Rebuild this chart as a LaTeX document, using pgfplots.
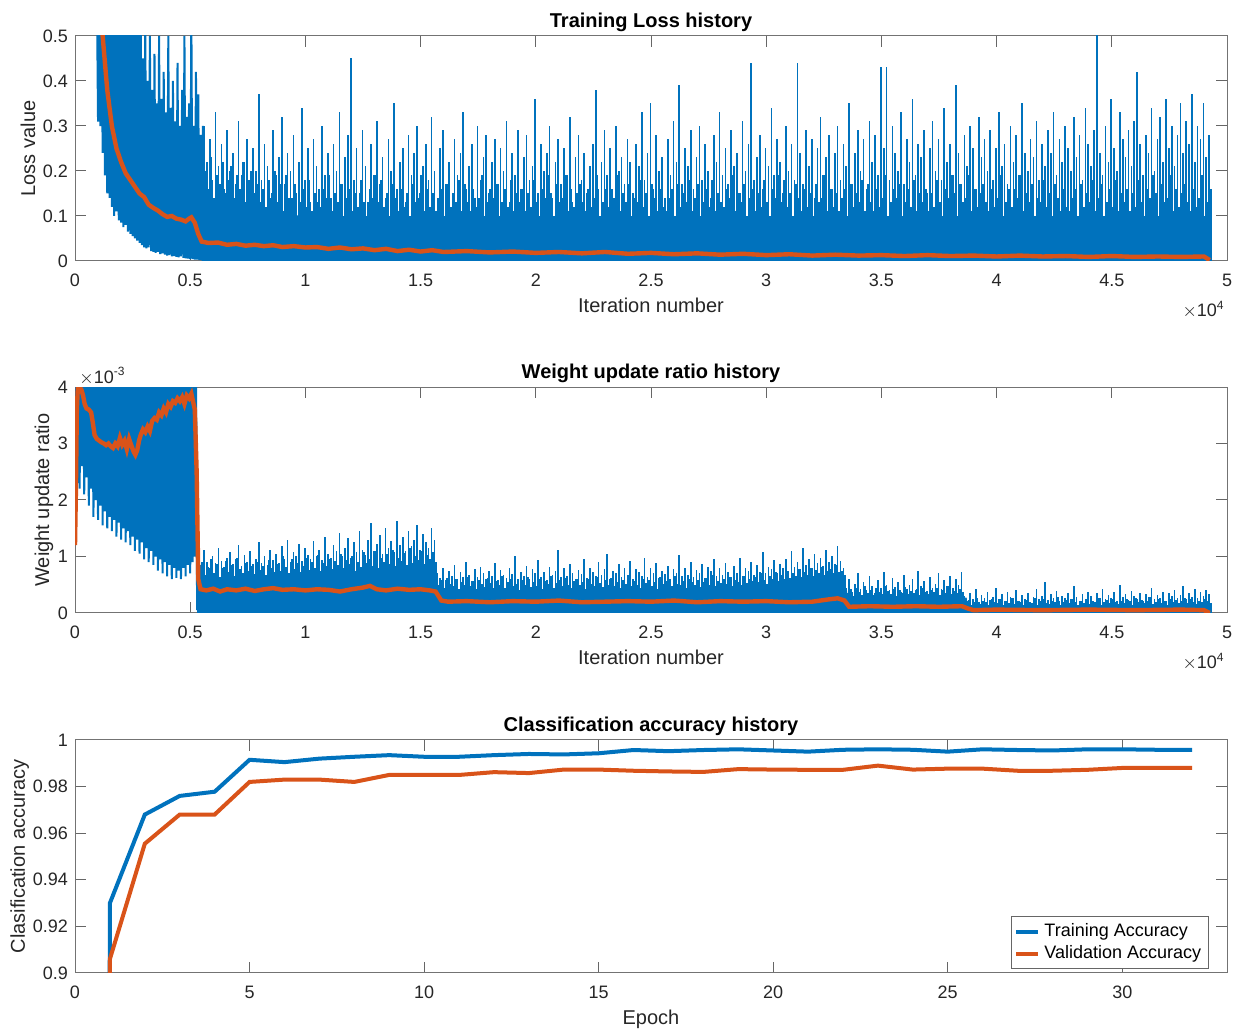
\documentclass[border=0pt]{standalone}
\usepackage{pgfplots}
\usepackage{pgfplotstable}
\pgfplotsset{compat=1.18}
\usepackage{fontspec}
\setmainfont{Liberation Sans}
\definecolor{mblue}{RGB}{0,114,189}
\definecolor{morange}{RGB}{217,83,25}
\definecolor{tgray}{RGB}{38,38,38}
\pgfplotsset{
 mstyle/.style={
  scale only axis, width=576pt,
  axis line style={black!55, line width=0.5pt},
  every tick/.style={black!60, line width=0.5pt},
  major tick length=5.5pt,
  tick label style={font=\fontsize{9}{10}\selectfont, text=tgray},
  label style={font=\fontsize{10}{12}\selectfont, text=tgray},
  title style={font=\fontsize{10}{12}\selectfont\bfseries, text=black, yshift=-7.5pt},
  /pgf/number format/assume math mode=true,
  scaled x ticks=false, scaled y ticks=false,
  xticklabel style={yshift=-3pt},
  xlabel style={yshift=1.5pt},
  clip=true,
 }
}
\begin{document}
\begin{tikzpicture}
\useasboundingbox (0,0) rectangle (620.5pt,-516pt);
% ---------------- Top: training loss ----------------
\begin{axis}[mstyle, name=ax1, at={(37.5pt,-18pt)}, anchor=north west, height=112.5pt,
 xmin=0, xmax=50000, ymin=0, ymax=0.5,
 xtick={0,5000,10000,15000,20000,25000,30000,35000,40000,45000,50000},
 xticklabels={0,0.5,1,1.5,2,2.5,3,3.5,4,4.5,5},
 ytick={0,0.1,0.2,0.3,0.4,0.5}, yticklabels={0,0.1,0.2,0.3,0.4,0.5},
 title={Training Loss history}, xlabel={Iteration number}, ylabel={Loss value},
 ylabel style={at={(axis description cs:-0.0408,0.5)}, anchor=center}]
\addplot[mblue, line width=1pt] table[x expr=950+\coordindex*50, y index=0, header=false, row sep=\\]{
0.6\\0.31\\0.6\\0.30\\0.6\\0.24\\0.6\\0.19\\0.6\\0.15\\
0.6\\0.14\\0.6\\0.12\\0.6\\0.10\\0.6\\0.11\\0.6\\0.09\\
0.6\\0.085\\0.6\\0.075\\0.6\\0.08\\0.6\\0.065\\0.6\\0.06\\
0.6\\0.055\\0.6\\0.05\\0.6\\0.045\\0.55\\0.04\\0.6\\0.035\\
0.45\\0.03\\0.52\\0.028\\0.40\\0.03\\0.50\\0.022\\0.38\\0.02\\
0.46\\0.018\\0.35\\0.02\\0.50\\0.015\\0.36\\0.017\\0.42\\0.014\\
0.33\\0.012\\0.50\\0.013\\0.34\\0.01\\0.40\\0.011\\0.31\\0.009\\
0.44\\0.008\\0.30\\0.01\\0.38\\0.007\\0.50\\0.006\\0.32\\0.005\\
0.35\\0.004\\0.55\\0.004\\0.30\\0.003\\0.42\\0.003\\0.37\\0.002\\
0.28\\0.002\\0.30\\0.002\\
};
\addplot[fill=mblue, draw=none] coordinates {(5500,0.22) (5600,0.15) (6000,0.12) (7000,0.11) (10000,0.1) (20000,0.095) (49200,0.09)} \closedcycle;
\addplot[ycomb, mblue, line width=1.1pt] table[x expr=5662+\coordindex*125, y index=0, header=false, row sep=\\]{
0.2\\0.16\\0.23\\0.14\\0.19\\0.17\\0.22\\0.15\\0.18\\0.21\\
0.14\\0.19\\0.16\\0.22\\0.13\\0.18\\0.2\\0.15\\0.17\\0.13\\
0.16\\0.12\\0.18\\0.15\\0.2\\0.13\\0.17\\0.11\\0.19\\0.14\\
0.14\\0.17\\0.1\\0.13\\0.16\\0.12\\0.18\\0.11\\0.15\\0.13\\
0.12\\0.16\\0.14\\0.19\\0.11\\0.15\\0.13\\0.17\\0.1\\0.14\\
0.16\\0.11\\0.15\\0.12\\0.18\\0.13\\0.1\\0.16\\0.14\\0.19\\
0.13\\0.18\\0.12\\0.15\\0.1\\0.17\\0.14\\0.11\\0.16\\0.12\\
0.15\\0.1\\0.17\\0.13\\0.14\\0.19\\0.11\\0.16\\0.12\\0.15\\
0.11\\0.14\\0.16\\0.1\\0.17\\0.12\\0.15\\0.13\\0.18\\0.11\\
0.17\\0.13\\0.11\\0.16\\0.12\\0.14\\0.19\\0.1\\0.13\\0.16\\
0.14\\0.17\\0.1\\0.13\\0.16\\0.12\\0.18\\0.11\\0.15\\0.13\\
0.16\\0.11\\0.15\\0.12\\0.18\\0.13\\0.1\\0.16\\0.14\\0.19\\
0.15\\0.1\\0.17\\0.13\\0.14\\0.19\\0.11\\0.16\\0.12\\0.15\\
0.17\\0.13\\0.11\\0.16\\0.12\\0.14\\0.19\\0.1\\0.13\\0.16\\
0.12\\0.16\\0.14\\0.19\\0.11\\0.15\\0.13\\0.17\\0.1\\0.14\\
0.13\\0.18\\0.12\\0.15\\0.1\\0.17\\0.14\\0.11\\0.16\\0.12\\
0.11\\0.14\\0.16\\0.1\\0.17\\0.12\\0.15\\0.13\\0.18\\0.11\\
0.14\\0.17\\0.1\\0.13\\0.16\\0.12\\0.18\\0.11\\0.15\\0.13\\
0.12\\0.16\\0.14\\0.19\\0.11\\0.15\\0.13\\0.17\\0.1\\0.14\\
0.16\\0.11\\0.15\\0.12\\0.18\\0.13\\0.1\\0.16\\0.14\\0.19\\
0.13\\0.18\\0.12\\0.15\\0.1\\0.17\\0.14\\0.11\\0.16\\0.12\\
0.15\\0.1\\0.17\\0.13\\0.14\\0.19\\0.11\\0.16\\0.12\\0.15\\
0.11\\0.14\\0.16\\0.1\\0.17\\0.12\\0.15\\0.13\\0.18\\0.11\\
0.17\\0.13\\0.11\\0.16\\0.12\\0.14\\0.19\\0.1\\0.13\\0.16\\
0.14\\0.17\\0.1\\0.13\\0.16\\0.12\\0.18\\0.11\\0.15\\0.13\\
0.16\\0.11\\0.15\\0.12\\0.18\\0.13\\0.1\\0.16\\0.14\\0.19\\
0.15\\0.1\\0.17\\0.13\\0.14\\0.19\\0.11\\0.16\\0.12\\0.15\\
0.17\\0.13\\0.11\\0.16\\0.12\\0.14\\0.19\\0.1\\0.13\\0.16\\
0.12\\0.16\\0.14\\0.19\\0.11\\0.15\\0.13\\0.17\\0.1\\0.14\\
0.13\\0.18\\0.12\\0.15\\0.1\\0.17\\0.14\\0.11\\0.16\\0.12\\
0.11\\0.14\\0.16\\0.1\\0.17\\0.12\\0.15\\0.13\\0.18\\0.11\\
0.14\\0.17\\0.1\\0.13\\0.16\\0.12\\0.18\\0.11\\0.15\\0.13\\
0.16\\0.11\\0.15\\0.12\\0.18\\0.13\\0.1\\0.16\\0.14\\0.19\\
0.15\\0.1\\0.17\\0.13\\0.14\\0.19\\0.11\\0.16\\0.12\\0.15\\
0.17\\0.13\\0.11\\0.16\\0.12\\0.14\\0.19\\0.1\\0.13\\0.16\\
};
\addplot[ycomb, mblue, line width=0.8pt] table[x expr=5600+\coordindex*125, y index=0, header=false, row sep=\\]{
0.30\\0.22\\0.27\\0.18\\0.33\\0.21\\0.26\\0.16\\0.29\\0.2\\
0.24\\0.17\\0.31\\0.19\\0.22\\0.27\\0.15\\0.25\\0.2\\0.37\\
0.18\\0.26\\0.21\\0.14\\0.29\\0.19\\0.23\\0.32\\0.17\\0.24\\
0.2\\0.28\\0.15\\0.22\\0.34\\0.18\\0.25\\0.13\\0.27\\0.21\\
0.16\\0.3\\0.19\\0.24\\0.14\\0.26\\0.2\\0.33\\0.17\\0.23\\
0.28\\0.45\\0.18\\0.25\\0.15\\0.29\\0.21\\0.13\\0.26\\0.19\\
0.31\\0.17\\0.23\\0.14\\0.27\\0.2\\0.35\\0.16\\0.22\\0.25\\
0.13\\0.28\\0.19\\0.24\\0.3\\0.15\\0.21\\0.26\\0.18\\0.32\\
0.2\\0.14\\0.25\\0.29\\0.17\\0.22\\0.12\\0.27\\0.19\\0.24\\
0.33\\0.16\\0.21\\0.26\\0.14\\0.3\\0.18\\0.23\\0.28\\0.15\\
0.22\\0.27\\0.17\\0.25\\0.2\\0.31\\0.13\\0.24\\0.19\\0.29\\
0.16\\0.23\\0.28\\0.18\\0.21\\0.36\\0.15\\0.26\\0.2\\0.24\\
0.3\\0.14\\0.22\\0.27\\0.17\\0.25\\0.19\\0.32\\0.13\\0.23\\
0.28\\0.18\\0.24\\0.15\\0.21\\0.26\\0.38\\0.16\\0.22\\0.29\\
0.19\\0.25\\0.14\\0.3\\0.2\\0.23\\0.17\\0.27\\0.22\\0.15\\
0.26\\0.21\\0.33\\0.18\\0.24\\0.35\\0.16\\0.28\\0.2\\0.23\\
0.14\\0.27\\0.19\\0.31\\0.22\\0.39\\0.17\\0.25\\0.21\\0.29\\
0.16\\0.23\\0.3\\0.18\\0.26\\0.2\\0.14\\0.28\\0.22\\0.33\\
0.19\\0.25\\0.17\\0.29\\0.21\\0.24\\0.15\\0.31\\0.2\\0.26\\
0.44\\0.18\\0.23\\0.28\\0.16\\0.25\\0.21\\0.34\\0.19\\0.27\\
0.22\\0.15\\0.3\\0.2\\0.26\\0.18\\0.44\\0.24\\0.17\\0.29\\
0.21\\0.27\\0.14\\0.25\\0.32\\0.19\\0.23\\0.28\\0.16\\0.24\\
0.3\\0.18\\0.26\\0.21\\0.35\\0.17\\0.24\\0.29\\0.2\\0.27\\
0.16\\0.31\\0.22\\0.28\\0.19\\0.43\\0.25\\0.43\\0.18\\0.3\\
0.24\\0.2\\0.33\\0.17\\0.27\\0.22\\0.36\\0.19\\0.26\\0.23\\
0.29\\0.15\\0.25\\0.31\\0.2\\0.27\\0.18\\0.34\\0.22\\0.26\\
0.19\\0.39\\0.24\\0.17\\0.28\\0.21\\0.3\\0.25\\0.16\\0.32\\
0.23\\0.27\\0.2\\0.29\\0.18\\0.25\\0.33\\0.21\\0.26\\0.17\\
0.3\\0.22\\0.28\\0.19\\0.35\\0.24\\0.2\\0.27\\0.23\\0.31\\
0.18\\0.26\\0.21\\0.29\\0.24\\0.33\\0.19\\0.27\\0.22\\0.3\\
0.25\\0.2\\0.32\\0.23\\0.28\\0.18\\0.34\\0.26\\0.21\\0.29\\
0.52\\0.24\\0.19\\0.3\\0.22\\0.36\\0.25\\0.2\\0.33\\0.27\\
0.23\\0.29\\0.21\\0.31\\0.42\\0.26\\0.19\\0.28\\0.24\\0.34\\
0.2\\0.27\\0.32\\0.22\\0.36\\0.25\\0.3\\0.21\\0.28\\0.35\\
0.24\\0.31\\0.26\\0.37\\0.22\\0.3\\0.27\\0.35\\0.23\\0.28\\
};
\addplot[morange, line width=2.2pt] coordinates {
(1000,0.62) (1200,0.5) (1400,0.38) (1600,0.3) (1800,0.25) (2000,0.22) (2200,0.195) (2400,0.18)
(2600,0.165) (2800,0.15) (3000,0.142) (3200,0.125) (3400,0.118) (3600,0.112) (3800,0.104)
(4000,0.098) (4200,0.1) (4400,0.094) (4600,0.092) (4800,0.088) (4950,0.094) (5050,0.097)
(5200,0.085) (5350,0.06) (5500,0.043) (5800,0.04) (6200,0.041) (6600,0.036) (7000,0.038)
(7400,0.034) (7800,0.036) (8200,0.033) (8600,0.035) (9000,0.031) (9500,0.033) (10000,0.03)
(10500,0.031) (11000,0.027) (11500,0.03) (12000,0.026) (12500,0.028) (13000,0.024)
(13500,0.027) (14000,0.022) (14500,0.025) (15000,0.021) (15500,0.024) (16000,0.02)
(17000,0.022) (18000,0.019) (19000,0.021) (20000,0.018) (21000,0.02) (22000,0.017)
(23000,0.02) (24000,0.016) (25000,0.018) (26000,0.015) (27000,0.017) (28000,0.014)
(29000,0.016) (30000,0.013) (31000,0.015) (32000,0.012) (33000,0.014) (34000,0.012)
(35000,0.013) (36000,0.011) (37000,0.013) (38000,0.011) (39000,0.012) (40000,0.01)
(41000,0.012) (42000,0.01) (43000,0.011) (44000,0.009) (45000,0.011) (46000,0.009)
(47000,0.01) (48000,0.009) (49000,0.01) (49250,0.002)};
\end{axis}
\node[anchor=base east, font=\fontsize{9}{10}\selectfont, text=tgray, inner sep=0pt] at ([yshift=-28pt,xshift=-1pt]ax1.south east) {$\times$10\textsuperscript{4}};
% ---------------- Middle: weight update ratio ----------------
\begin{axis}[mstyle, name=ax2, at={(37.5pt,-193.5pt)}, anchor=north west, height=113pt,
 xmin=0, xmax=50000, ymin=0, ymax=4,
 xtick={0,5000,10000,15000,20000,25000,30000,35000,40000,45000,50000},
 xticklabels={0,0.5,1,1.5,2,2.5,3,3.5,4,4.5,5},
 ytick={0,1,2,3,4}, yticklabels={0,1,2,3,4},
 title={Weight update ratio history}, xlabel={Iteration number}, ylabel={Weight update ratio},
 ylabel style={at={(axis description cs:-0.027,0.5)}, anchor=center}]
\addplot[mblue, line width=1pt] table[x expr=\coordindex*50, y index=0, header=false, row sep=\\]{
1.3\\4.5\\2.3\\4.5\\2.2\\4.5\\2.6\\4.5\\2.1\\4.5\\
2.4\\4.5\\1.9\\4.5\\2.2\\4.5\\1.7\\4.5\\2.0\\4.5\\
1.65\\4.5\\1.9\\4.5\\1.55\\4.5\\1.8\\4.5\\1.5\\4.5\\
1.7\\4.5\\1.45\\4.5\\1.65\\4.5\\1.35\\4.5\\1.6\\4.5\\
1.3\\4.5\\1.5\\4.5\\1.25\\4.5\\1.45\\4.5\\1.2\\4.5\\
1.35\\4.5\\1.1\\4.5\\1.3\\4.5\\1.05\\4.5\\1.25\\4.5\\
0.95\\4.5\\1.15\\4.5\\0.9\\4.5\\1.1\\4.5\\0.85\\4.5\\
1.0\\4.5\\0.75\\4.5\\0.95\\4.5\\0.7\\4.5\\0.9\\4.5\\
0.65\\4.5\\0.85\\4.5\\0.6\\4.5\\0.8\\4.5\\0.62\\4.5\\
0.75\\4.5\\0.6\\4.5\\0.8\\4.5\\0.65\\4.5\\0.85\\4.5\\
0.7\\4.5\\0.9\\4.5\\1.0\\4.5\\0.05\\
};
\addplot[fill=mblue, draw=none] coordinates {(5300,0.62) (15700,0.62) (15750,0.4) (33500,0.4) (33550,0.27) (38700,0.27) (38750,0.12) (49200,0.12)} \closedcycle;
\addplot[ycomb, mblue, line width=1.1pt] table[x expr=5412+\coordindex*125, y index=0, header=false, row sep=\\]{
0.75\\0.9\\0.68\\0.82\\0.95\\0.7\\0.86\\0.64\\0.8\\0.92\\
0.72\\0.85\\0.66\\0.98\\0.78\\0.7\\0.88\\0.74\\0.83\\0.69\\
0.9\\0.76\\0.84\\0.67\\0.93\\0.8\\0.72\\0.87\\0.75\\1.0\\
0.82\\0.7\\0.95\\0.78\\0.88\\0.73\\0.84\\0.98\\0.76\\0.9\\
0.8\\1.02\\0.74\\0.88\\0.83\\0.96\\0.77\\0.92\\0.85\\1.05\\
0.79\\0.94\\0.86\\1.0\\0.75\\0.9\\0.82\\1.08\\0.88\\0.95\\
0.84\\1.1\\0.8\\0.97\\0.9\\1.04\\0.86\\1.12\\0.83\\0.98\\
0.92\\1.06\\0.85\\1.15\\0.89\\1.0\\0.94\\1.1\\0.87\\1.02\\
0.95\\1.08\\0.9\\
0.5\\0.58\\0.45\\0.62\\0.52\\0.47\\0.6\\0.43\\0.55\\0.5\\
0.64\\0.48\\0.56\\0.42\\0.59\\0.51\\0.46\\0.62\\0.53\\0.44\\
0.57\\0.49\\0.65\\0.45\\0.54\\0.6\\0.47\\0.52\\0.41\\0.58\\
0.5\\0.63\\0.46\\0.55\\0.48\\0.61\\0.43\\0.57\\0.52\\0.66\\
0.45\\0.53\\0.59\\0.47\\0.62\\0.5\\0.44\\0.56\\0.6\\0.49\\
0.55\\0.42\\0.6\\0.51\\0.47\\0.64\\0.53\\0.46\\0.58\\0.5\\
0.62\\0.48\\0.54\\0.44\\0.59\\0.52\\0.67\\0.47\\0.56\\0.5\\
0.45\\0.61\\0.53\\0.58\\0.48\\0.55\\0.43\\0.63\\0.51\\0.57\\
0.6\\0.47\\0.65\\0.52\\0.49\\0.57\\0.44\\0.61\\0.54\\0.5\\
0.58\\0.46\\0.55\\0.62\\0.5\\0.68\\0.48\\0.56\\0.53\\0.6\\
0.52\\0.64\\0.47\\0.59\\0.55\\0.5\\0.66\\0.53\\0.6\\0.57\\
0.63\\0.55\\0.7\\0.58\\0.52\\0.65\\0.6\\0.72\\0.56\\0.68\\
0.6\\0.75\\0.62\\0.7\\0.66\\0.78\\0.63\\0.72\\0.68\\0.8\\
0.65\\0.76\\0.7\\0.82\\0.67\\0.74\\0.78\\0.7\\0.85\\0.72\\
0.75\\0.68\\
0.35\\0.42\\0.3\\0.45\\0.38\\0.32\\0.47\\0.36\\0.4\\0.31\\
0.44\\0.37\\0.33\\0.48\\0.39\\0.34\\0.43\\0.3\\0.41\\0.36\\
0.46\\0.33\\0.39\\0.35\\0.42\\0.31\\0.45\\0.38\\0.34\\0.4\\
0.37\\0.44\\0.32\\0.41\\0.36\\0.47\\0.33\\0.39\\0.35\\0.43\\
0.38\\
0.18\\0.23\\0.15\\0.2\\0.26\\0.16\\0.22\\0.19\\0.14\\0.24\\
0.2\\0.17\\0.25\\0.15\\0.21\\0.18\\0.27\\0.16\\0.22\\0.19\\
0.14\\0.23\\0.2\\0.17\\0.26\\0.15\\0.21\\0.24\\0.18\\0.16\\
0.22\\0.19\\0.28\\0.15\\0.2\\0.23\\0.17\\0.25\\0.19\\0.14\\
0.21\\0.18\\0.24\\0.16\\0.22\\0.2\\0.27\\0.15\\0.19\\0.23\\
0.17\\0.25\\0.2\\0.16\\0.22\\0.18\\0.24\\0.21\\0.15\\0.26\\
0.19\\0.23\\0.17\\0.21\\0.28\\0.16\\0.2\\0.24\\0.18\\0.22\\
0.15\\0.25\\0.19\\0.23\\0.17\\0.21\\0.26\\0.18\\0.24\\0.2\\
0.16\\0.22\\0.19\\0.25\\0.21\\0.18\\
};
\addplot[ycomb, mblue, line width=0.8pt] table[x expr=5350+\coordindex*125, y index=0, header=false, row sep=\\]{
1.05\\0.85\\1.12\\0.9\\0.8\\1.0\\0.88\\1.15\\0.92\\0.82\\
0.98\\1.08\\0.86\\0.95\\1.2\\0.84\\1.02\\0.9\\1.1\\0.87\\
0.96\\1.25\\0.89\\1.0\\0.85\\1.12\\0.93\\1.05\\0.88\\1.18\\
0.95\\1.3\\0.9\\1.08\\1.0\\1.22\\0.92\\1.15\\1.03\\0.96\\
1.28\\1.0\\1.12\\0.94\\1.35\\1.05\\0.98\\1.2\\1.1\\1.42\\
1.0\\1.15\\1.32\\0.97\\1.25\\1.08\\1.45\\1.12\\1.02\\1.3\\
1.6\\1.1\\1.22\\1.38\\1.05\\1.5\\1.15\\1.28\\1.08\\1.62\\
1.2\\1.35\\1.1\\1.45\\1.18\\1.3\\1.55\\1.12\\1.4\\1.25\\
1.15\\1.5\\1.3\\
0.7\\0.62\\0.8\\0.58\\0.75\\0.66\\0.85\\0.6\\0.72\\0.64\\
0.9\\0.68\\0.57\\0.78\\0.63\\0.82\\0.7\\0.6\\0.74\\0.65\\
0.88\\0.59\\0.76\\0.67\\0.62\\0.8\\0.69\\1.0\\0.61\\0.73\\
0.66\\0.84\\0.6\\0.77\\0.7\\0.93\\0.64\\0.72\\0.58\\0.81\\
0.68\\0.75\\1.12\\0.63\\0.79\\0.66\\0.87\\0.71\\0.6\\0.76\\
0.69\\0.95\\0.62\\0.8\\0.73\\0.65\\0.9\\0.67\\0.78\\1.05\\
0.61\\0.74\\0.7\\0.86\\0.63\\0.8\\0.68\\0.92\\0.6\\0.77\\
0.72\\0.66\\0.98\\0.64\\0.79\\0.7\\0.88\\0.62\\0.75\\0.69\\
0.84\\0.6\\0.78\\0.71\\1.02\\0.65\\0.8\\0.67\\0.9\\0.63\\
0.76\\0.7\\0.86\\0.62\\0.81\\0.74\\0.95\\0.66\\0.79\\0.68\\
0.88\\0.72\\0.64\\0.83\\0.7\\0.97\\0.66\\0.8\\0.75\\0.9\\
0.68\\0.85\\0.73\\1.08\\0.7\\0.82\\0.77\\0.93\\0.71\\0.87\\
0.8\\0.96\\0.74\\1.1\\0.82\\0.9\\0.78\\1.15\\0.85\\0.95\\
0.8\\1.05\\0.88\\0.98\\0.84\\1.12\\0.9\\1.0\\0.86\\1.18\\0.92\\0.8\\
0.45\\0.6\\0.38\\0.52\\0.7\\0.42\\0.55\\0.4\\0.65\\0.48\\
0.36\\0.58\\0.44\\0.72\\0.5\\0.4\\0.62\\0.46\\0.54\\0.38\\
0.68\\0.43\\0.5\\0.6\\0.41\\0.75\\0.47\\0.56\\0.39\\0.64\\
0.45\\0.52\\0.7\\0.42\\0.58\\0.48\\0.66\\0.44\\0.6\\0.5\\
0.72\\
0.3\\0.22\\0.36\\0.25\\0.42\\0.2\\0.32\\0.27\\0.38\\0.23\\
0.29\\0.45\\0.24\\0.33\\0.21\\0.37\\0.28\\0.26\\0.4\\0.22\\
0.31\\0.25\\0.35\\0.2\\0.28\\0.43\\0.24\\0.3\\0.55\\0.23\\
0.34\\0.27\\0.39\\0.21\\0.3\\0.26\\0.36\\0.24\\0.48\\0.28\\
0.22\\0.33\\0.25\\0.38\\0.3\\0.2\\0.35\\0.27\\0.42\\0.24\\
0.31\\0.26\\0.37\\0.22\\0.5\\0.28\\0.34\\0.23\\0.39\\0.3\\
0.25\\0.36\\0.21\\0.33\\0.28\\0.44\\0.24\\0.31\\0.27\\0.38\\
0.22\\0.35\\0.3\\0.4\\0.26\\0.32\\0.47\\0.25\\0.36\\0.29\\
0.42\\0.27\\0.38\\0.3\\0.4\\0.33\\
};
\addplot[morange, line width=2.2pt] coordinates {
(0,1.2) (40,2.2) (80,3.6) (130,4.05) (200,4.0) (280,3.95) (350,3.85) (420,3.7) (500,3.62)
(600,3.6) (700,3.55) (780,3.35) (850,3.15) (950,3.08) (1050,3.05) (1150,3.02) (1250,3.0)
(1350,2.97) (1450,3.0) (1550,2.95) (1650,2.92) (1750,3.0) (1850,2.95) (1950,3.1) (2050,2.98)
(2150,3.05) (2250,2.9) (2350,3.08) (2450,2.96) (2550,2.85) (2620,2.8) (2700,2.88) (2780,3.05)
(2850,3.15) (2950,3.25) (3050,3.2) (3150,3.3) (3250,3.22) (3350,3.4) (3450,3.45) (3550,3.42)
(3650,3.55) (3750,3.5) (3850,3.62) (3950,3.55) (4050,3.7) (4150,3.65) (4250,3.75) (4350,3.72)
(4450,3.8) (4550,3.75) (4650,3.82) (4750,3.7) (4850,3.85) (4950,3.8) (5050,3.88) (5120,3.75)
(5200,3.6) (5280,2.5) (5350,0.6) (5450,0.42) (5700,0.4) (6000,0.43) (6300,0.38) (6600,0.42)
(7000,0.4) (7400,0.43) (7800,0.39) (8200,0.42) (8600,0.44) (9000,0.41) (9500,0.42) (10000,0.4)
(10500,0.42) (11000,0.41) (11500,0.38) (12000,0.42) (12500,0.45) (12800,0.48) (13100,0.42)
(13500,0.4) (14000,0.43) (14500,0.41) (15000,0.42) (15400,0.4) (15650,0.38) (15900,0.22)
(16200,0.2) (17000,0.21) (18000,0.19) (19000,0.21) (20000,0.2) (21000,0.22) (22000,0.19)
(23000,0.2) (24000,0.21) (25000,0.2) (26000,0.22) (27000,0.19) (28000,0.21) (29000,0.2)
(30000,0.21) (31000,0.19) (32000,0.2) (32700,0.24) (33100,0.26) (33400,0.22) (33600,0.11)
(34500,0.12) (35500,0.11) (36500,0.12) (37500,0.11) (38500,0.12) (38750,0.08) (39000,0.05)
(40000,0.06) (42000,0.05) (44000,0.06) (46000,0.05) (48000,0.06) (49000,0.05) (49250,0.0)};
\end{axis}
\node[anchor=base east, font=\fontsize{9}{10}\selectfont, text=tgray, inner sep=0pt] at ([yshift=-28pt,xshift=-1pt]ax2.south east) {$\times$10\textsuperscript{4}};
\node[anchor=base west, font=\fontsize{9}{10}\selectfont, text=tgray, inner sep=0pt] at ([yshift=2pt,xshift=2pt]ax2.north west) {$\times$10\textsuperscript{-3}};
% ---------------- Bottom: accuracy ----------------
\begin{axis}[mstyle, name=ax3, at={(37.5pt,-370pt)}, anchor=north west, height=116.5pt,
 xmin=0, xmax=33, ymin=0.9, ymax=1,
 xtick={0,5,10,15,20,25,30}, xticklabels={0,5,10,15,20,25,30},
 ytick={0.9,0.92,0.94,0.96,0.98,1}, yticklabels={0.9,0.92,0.94,0.96,0.98,1},
 title={Classification accuracy history}, xlabel={Epoch}, ylabel={Clasification accuracy},
 ylabel style={at={(axis description cs:-0.048,0.5)}, anchor=center},
 legend style={at={(0.984,0.017)}, anchor=south east, font=\fontsize{9}{10}\selectfont,
   draw=black!60, inner sep=1.5pt, row sep=-1pt, cells={anchor=west}},
 legend image code/.code={\draw[#1] (0pt,0pt) -- (11pt,0pt);}]
\addplot[mblue, line width=2pt] coordinates {
(0.92,0.5) (1,0.93) (2,0.968) (3,0.976) (4,0.9778) (5,0.9915) (6,0.9905) (7,0.992) (8,0.9928)
(9,0.9935) (10,0.9928) (11,0.9928) (12,0.9935) (13,0.994) (14,0.9938) (15,0.9943) (16,0.9957)
(17,0.9952) (18,0.9957) (19,0.996) (20,0.9955) (21,0.995) (22,0.9958) (23,0.996) (24,0.9958)
(25,0.995) (26,0.996) (27,0.9957) (28,0.9955) (29,0.996) (30,0.996) (31,0.9958) (32,0.9958)};
\addlegendentry{Training Accuracy}
\addplot[morange, line width=2pt] coordinates {
(0.9,0.5) (1,0.906) (2,0.9555) (3,0.968) (4,0.968) (5,0.982) (6,0.983) (7,0.983) (8,0.982)
(9,0.985) (10,0.985) (11,0.985) (12,0.9862) (13,0.9858) (14,0.9873) (15,0.9873) (16,0.9868)
(17,0.9865) (18,0.9863) (19,0.9875) (20,0.9873) (21,0.9872) (22,0.9872) (23,0.989) (24,0.9873)
(25,0.9877) (26,0.9877) (27,0.9868) (28,0.9868) (29,0.9872) (30,0.988) (31,0.988) (32,0.988)};
\addlegendentry{Validation Accuracy}
\end{axis}
\end{tikzpicture}
\end{document}
